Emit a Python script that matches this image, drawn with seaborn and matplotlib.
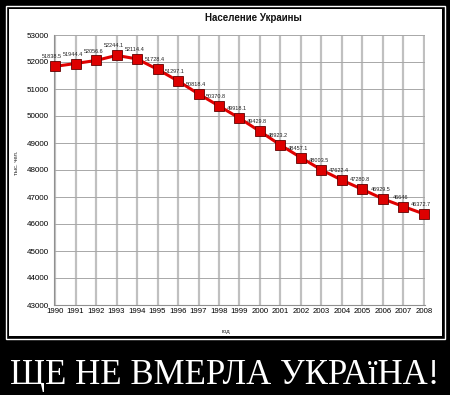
import matplotlib
matplotlib.use("Agg")
import matplotlib.pyplot as plt
import seaborn as sns
import pandas as pd
from matplotlib.patches import Rectangle

years = [1990, 1991, 1992, 1993, 1994, 1995, 1996, 1997, 1998, 1999,
         2000, 2001, 2002, 2003, 2004, 2005, 2006, 2007, 2008]
population = [51838.5, 51944.4, 52056.6, 52244.1, 52114.4, 51728.4, 51297.1,
              50818.4, 50370.8, 49918.1, 49429.8, 48923.2, 48457.1, 48003.5,
              47622.4, 47280.8, 46929.5, 46646, 46372.7]
labels = ["51838.5", "51944.4", "52056.6", "52244.1", "52114.4", "51728.4",
          "51297.1", "50818.4", "50370.8", "49918.1", "49429.8", "48923.2",
          "48457.1", "48003.5", "47622.4", "47280.8", "46929.5", "46646",
          "46372.7"]
yticks = [43000, 44000, 45000, 46000, 47000, 48000, 49000, 50000, 51000, 52000, 53000]

title = "Население Украины"
ylabel = "тыс. чел."
xlabel = "год"
caption = "ЩЕ НЕ ВМЕРЛА УКРАїНА!"

sns.set_theme(style="white")
plt.rcParams['font.family'] = ['Liberation Sans', 'DejaVu Sans']

fig = plt.figure(figsize=(4.5, 3.95), dpi=100)
fig.patch.set_facecolor("black")

W, H = 450, 395
def fx(px): return px / W
def fy(py): return 1 - py / H

# frame: thin white line, black gap, white panel
fig.patches.append(Rectangle((fx(5.5), fy(338.5)), fx(439), 333 / H, transform=fig.transFigure,
                             facecolor="none", edgecolor="white", lw=1.0, zorder=-2))
fig.patches.append(Rectangle((fx(9), fy(335.5)), fx(433), 326.5 / H, transform=fig.transFigure,
                             facecolor="white", edgecolor="none", zorder=-1))

ax = fig.add_axes([fx(54), fy(305), fx(425 - 54), (305 - 35) / H])
ax.set_zorder(2)
ax.set_facecolor("white")

df = pd.DataFrame({"year": years, "pop": population})
sns.lineplot(data=df, x="year", y="pop", ax=ax, color="#e00000", lw=2.2,
             marker="s", markersize=6.5, markerfacecolor="#dd0000",
             markeredgecolor="#600000", markeredgewidth=0.6, zorder=3)
for ln in ax.lines:
    ln.set_clip_on(False)

for x, y, t in zip(years, population, labels):
    ax.annotate(t, (x, y), xytext=(-2, 5), textcoords="offset points",
                ha="center", va="bottom", fontsize=4.0, color="#222222", zorder=4)

ax.set_xlim(1989.95, 2008.05)
ax.set_ylim(43000, 53000)
ax.set_xticks(years)
ax.set_xticklabels([str(y) for y in years], fontsize=5.6)
ax.set_yticks(yticks)
ax.set_yticklabels([str(v) for v in yticks], fontsize=5.8)
ax.tick_params(axis="both", length=2, pad=2, colors="black", width=0.6)
ax.tick_params(axis="x", length=0)

ax.grid(axis="x", color="#c0c0c0", lw=1.6)
ax.grid(axis="y", color="#a8a8a8", lw=0.7)
ax.set_axisbelow(True)
for s in ["top", "right"]:
    ax.spines[s].set_visible(False)
for s in ["left", "bottom"]:
    ax.spines[s].set_color("#909090")
    ax.spines[s].set_linewidth(0.8)

ax.set_xlabel("")
ax.set_ylabel("")
fig.text(fx(253), fy(18), title, ha="center", va="center", fontsize=7, fontweight="bold", color="#111111")
fig.text(fx(16), fy(163), ylabel, ha="center", va="center", rotation=90, fontsize=4.2, color="#222222")
fig.text(fx(226), fy(331), xlabel, ha="center", va="center", fontsize=4.2, color="#222222")

fig.text(0.5, fy(375), caption, ha="center", va="center", fontsize=25, color="white",
         family=["Liberation Serif", "DejaVu Serif"])

fig.savefig("out.png", dpi=100, facecolor="black")
